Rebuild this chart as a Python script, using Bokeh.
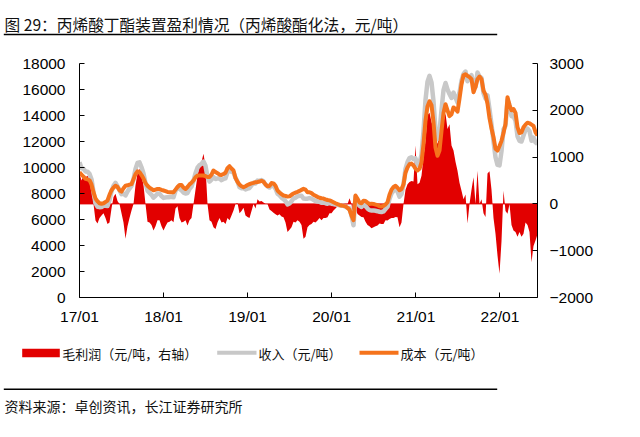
import pandas as pd
from bokeh.plotting import figure
from bokeh.models import Range1d, LinearAxis, FixedTicker, Span
from bokeh.embed import file_html
from bokeh.resources import INLINE
from bokeh.core.properties import value

# ---------------- data ----------------
title_text = "图 29：丙烯酸丁酯装置盈利情况（丙烯酸酯化法，元/吨）"
source_text = "资料来源：卓创资讯，长江证券研究所"
series_names = ["毛利润（元/吨，右轴）", "收入（元/吨）", "成本（元/吨）"]

start_date = "2017-01-01"
end_date = "2022-06-13"

x_tick_dates = ["2017-01-01", "2018-01-01", "2019-01-01", "2020-01-01", "2021-01-01", "2022-01-01"]
x_tick_labels = ["17/01", "18/01", "19/01", "20/01", "21/01", "22/01"]
left_ticks = [0, 2000, 4000, 6000, 8000, 10000, 12000, 14000, 16000, 18000]
right_ticks = [-2000, -1000, 0, 1000, 2000, 3000]

# cost (元/吨), left axis
cost = [
    9640, 9450, 9300, 9130, 9080, 9020, 8700, 8100, 7615, 7400,
    7250, 7210, 7250, 7350, 7460, 7900, 8250, 8450, 8600, 8500,
    8250, 8150, 8400, 8600, 8630, 8680, 8720, 9100, 9490, 9700,
    9650, 9420, 9150, 8800, 8600, 8450, 8350, 8250, 8300, 8350,
    8340, 8280, 8230, 8180, 8120, 8100, 8100, 8100, 8300, 8500,
    8650, 8650, 8450, 8350, 8500, 8700, 8830, 9000, 9250, 9385,
    9385, 9385, 9385, 9330, 9270, 9270, 9450, 9770, 9650, 9560,
    9450, 9430, 9500, 9600, 9950, 10100, 9920, 9770, 9200, 8900,
    8680, 8560, 8490, 8560, 8650, 8720, 8780, 8820, 8870, 8890,
    8920, 8980, 8900, 8700, 8560, 8580, 8800, 8780, 8600, 8230,
    8080, 7950, 7850, 7820, 7760, 7780, 7900, 8000, 8070, 8130,
    8200, 8280, 8360, 8300, 8100, 8100, 8030, 7900, 7820, 7740,
    7670, 7630, 7610, 7550, 7500, 7470, 7410, 7330, 7250, 7180,
    7120, 7080, 7050, 7010, 6900, 6750, 6300, 5950, 7850, 7600,
    7300, 7250, 7450, 7420, 7300, 7200, 7220, 7200, 7150, 7100,
    7020, 7000, 7050, 7150, 7330, 7900, 8300, 8500, 8590, 8450,
    8250, 8350, 8700, 9600, 10000, 10250, 10300, 10150, 9900, 9770,
    9900, 10400, 11800, 13615, 14700, 15100, 14800, 13500, 11540, 10900,
    11300, 12800, 14200, 14870, 14400, 13950, 14100, 14620, 14500, 14300,
    15300, 16400, 17100, 17180, 17050, 16950, 16800, 15790, 16200, 16800,
    17000, 16800, 15920, 15600, 14900, 13800, 13000, 12330, 11440, 11300,
    11650, 12050, 12650, 13360, 15410, 14800, 14400, 14500, 14200, 13100,
    12650, 12700, 13100, 13300, 13450, 13400, 13300, 13200, 12720, 12460,
]

# revenue (元/吨), left axis
revenue = [
    10400, 9950, 9900, 9700, 9680, 9520, 9100, 8100, 7260, 6980,
    6950, 6960, 7050, 7050, 7030, 7500, 8150, 8600, 8815, 8560,
    8250, 7950, 8000, 7855, 8150, 8380, 8580, 9100, 9890, 10350,
    10400, 10020, 9550, 8800, 8220, 8050, 7900, 7680, 7820, 8000,
    7990, 7800, 7660, 7700, 7720, 7720, 7750, 7710, 8200, 8450,
    8350, 8250, 8070, 8000, 8040, 8350, 8530, 9000, 9550, 9985,
    10185, 10285, 10455, 10130, 9270, 8920, 9070, 9270, 9115, 9160,
    9150, 9030, 9120, 9170, 9650, 9750, 9670, 9630, 9200, 8920,
    8480, 8410, 8410, 8310, 8370, 8420, 8630, 8820, 8770, 8990,
    8970, 9040, 8930, 8700, 8560, 8460, 8650, 8590, 8380, 7980,
    7860, 7680, 7565, 7420, 7160, 7230, 7400, 7620, 7670, 7780,
    7820, 7830, 7615, 7600, 7600, 7650, 7600, 7520, 7420, 7385,
    7370, 7280, 7310, 7250, 7215, 7270, 7210, 7190, 7150, 7130,
    7100, 7050, 7050, 6990, 6890, 6870, 6300, 5560, 7750, 7385,
    7050, 6970, 7165, 7040, 6850, 6720, 6700, 6700, 6670, 6640,
    6600, 6570, 6620, 6800, 6975, 7580, 8000, 8200, 8310, 8165,
    7750, 7950, 8700, 9900, 10420, 10720, 10790, 10630, 10700, 10190,
    10350, 11000, 12800, 15200, 16600, 17050, 16550, 15100, 12890, 12185,
    12780, 14400, 15950, 16500, 16000, 15650, 15350, 15760, 15400, 15010,
    15750, 16680, 17200, 17380, 16630, 16950, 17100, 16360, 16200, 17300,
    17000, 16900, 15720, 15320, 15550, 14500, 13300, 12030, 10800, 10200,
    10160, 11250, 12930, 13210, 15200, 14800, 13950, 13930, 13600, 12400,
    12050, 12000, 12460, 12900, 13000, 12800, 12055, 12300, 11940, 11810,
]

# gross profit (元/吨), right axis
profit = [
    650, 500, 600, 570, 600, 500, 400, 0, -355, -420,
    -300, -250, -200, -300, -430, -400, -100, 150, 215, 60,
    0, -200, -400, -745, -480, -300, -140, 0, 400, 650,
    750, 600, 400, 0, -380, -400, -450, -570, -480, -350,
    -350, -480, -570, -480, -400, -380, -350, -390, -100, -50,
    -300, -400, -380, -350, -460, -350, -300, 0, 300, 600,
    800, 900, 1070, 800, 0, -350, -380, -500, -535, -400,
    -300, -400, -380, -430, -300, -350, -250, -140, 0, 20,
    -200, -150, -80, -250, -280, -300, -150, 0, -100, 100,
    50, 60, 30, 0, 0, -120, -150, -190, -220, -250,
    -220, -270, -285, -400, -600, -550, -500, -380, -400, -350,
    -380, -450, -745, -700, -500, -450, -430, -380, -400, -355,
    -300, -350, -300, -300, -285, -200, -200, -140, -100, -50,
    -20, -30, 0, -20, -10, 120, 0, -390, -100, -215,
    -250, -280, -285, -380, -450, -480, -520, -500, -480, -460,
    -420, -430, -430, -350, -355, -320, -300, -300, -280, -285,
    -500, -400, 0, 300, 420, 470, 490, 480, 1250, 420,
    450, 600, 1000, 1355, 1900, 1950, 1750, 1600, 1350, 1285,
    1480, 1600, 1750, 1930, 1600, 1700, 1250, 1140, 900, 710,
    450, 280, 100, 200, -420, 0, 300, 570, 0, 710,
    0, 100, -200, -280, 650, 700, 300, -300, -640, -1100,
    -1490, -800, 280, -150, -210, 0, -450, -570, -600, -700,
    -600, -700, -640, -400, -450, -600, -1245, -900, -780, -650,
]

dates = pd.date_range(start_date, end_date, periods=len(cost))

# ---------------- style ----------------
RED = "#E20000"
GRAY = "#C8C8C8"
ORANGE = "#F5731C"
CJK = "Noto Sans CJK SC"
NUM = "Liberation Sans"
TXT = "#111111"
W = 640


def blank(height):
    f = figure(width=W, height=height, x_range=Range1d(0, W), y_range=Range1d(0, height),
               min_border=0, toolbar_location=None, output_backend="svg",
               x_axis_location=None, y_axis_location=None, outline_line_color=None)
    f.xgrid.visible = False
    f.ygrid.visible = False
    return f


# ---------------- header (page y 0..40) ----------------
header = blank(40)
header.text(x=[4], y=[16.5], text=[title_text], text_font=value(CJK),
            text_font_size="15.7px", text_baseline="middle", text_align="left",
            text_color=TXT)
header.segment(x0=[3.3], y0=[6], x1=[496.7], y1=[6], line_color="black", line_width=1.5)

# ---------------- main chart (page y 40..335) ----------------
p = figure(width=W, height=295, x_axis_type="datetime",
           x_range=Range1d(pd.Timestamp(start_date), pd.Timestamp(end_date)),
           y_range=Range1d(0, 18000),
           min_border_left=79, min_border_right=103, min_border_top=23, min_border_bottom=38,
           toolbar_location=None, output_backend="svg", outline_line_color=None)
p.extra_y_ranges = {"right": Range1d(-2000, 3000)}
p.add_layout(LinearAxis(y_range_name="right", ticker=FixedTicker(ticks=right_ticks)), "right")

p.xgrid.visible = False
p.ygrid.visible = False

tick_ms = [int(pd.Timestamp(d).value // 10**6) for d in x_tick_dates]
p.xaxis.ticker = FixedTicker(ticks=tick_ms)
p.xaxis.major_label_overrides = dict(zip(tick_ms, x_tick_labels))
p.yaxis[0].ticker = FixedTicker(ticks=left_ticks)

for ax in p.axis:
    ax.axis_line_color = "black"
    ax.axis_line_width = 1
    ax.major_tick_line_color = "black"
    ax.major_tick_in = 5
    ax.major_tick_out = 0
    ax.minor_tick_line_color = None
    ax.major_label_text_font = NUM
    ax.major_label_text_font_size = "15.5px"
    ax.major_label_text_color = "black"
p.yaxis[0].major_label_standoff = 14
p.yaxis[1].major_label_standoff = 12
p.xaxis.major_label_standoff = 10

zero = Span(location=0, dimension="width", y_range_name="right",
            line_color=RED, line_width=1, level="underlay")
p.add_layout(zero)

p.varea(x=dates, y1=0, y2=profit, y_range_name="right", fill_color=RED, fill_alpha=1)
p.line(dates, revenue, line_color=GRAY, line_width=4.5, line_join="round")
p.line(dates, cost, line_color=ORANGE, line_width=4, line_join="round")

# ---------------- footer (page y 335..437): legend + source ----------------
footer = blank(102)
footer.quad(left=[21.7], right=[59.3], bottom=[80.3], top=[88.7], fill_color=RED, line_color=None)
footer.line([216.7, 256], [84.7, 84.7], line_color=GRAY, line_width=4)
footer.line([359, 398], [84.7, 84.7], line_color=ORANGE, line_width=4)
footer.text(x=[61.7, 258, 400], y=[84.3, 84.3, 84.3], text=series_names,
            text_font=value(CJK), text_font_size="13px", text_baseline="middle",
            text_align="left", text_color=TXT)
footer.segment(x0=[3.3], y0=[48.3], x1=[496.7], y1=[48.3], line_color="black", line_width=1.5)
footer.text(x=[4], y=[32], text=[source_text], text_font=value(CJK),
            text_font_size="14px", text_baseline="middle", text_align="left",
            text_color=TXT)

open("out.html", "w").write(file_html([header, p, footer], INLINE))
